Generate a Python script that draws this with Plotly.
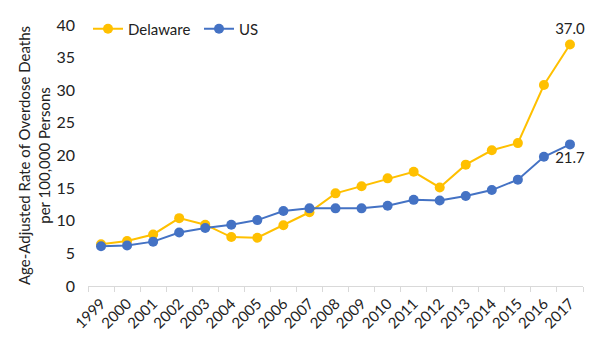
import plotly.graph_objects as go

years = [str(y) for y in range(1999, 2018)]
delaware = [6.4, 6.9, 7.9, 10.4, 9.4, 7.5, 7.4, 9.3, 11.3, 14.2, 15.3, 16.5, 17.5, 15.1, 18.6, 20.8, 21.9, 30.8, 37.0]
us = [6.1, 6.2, 6.8, 8.2, 8.9, 9.4, 10.1, 11.5, 11.9, 11.9, 11.9, 12.3, 13.2, 13.1, 13.8, 14.7, 16.3, 19.8, 21.7]

de_text = [""] * (len(years) - 1) + [f"{delaware[-1]:.1f}"]
us_text = [""] * (len(years) - 1) + [f"{us[-1]:.1f}"]

FONT = "Lato, Open Sans, sans-serif"

fig = go.Figure()
fig.add_trace(go.Scatter(
    x=years, y=delaware, name="Delaware", mode="lines+markers+text",
    line=dict(color="#FFC000", width=2), marker=dict(size=10, color="#FFC000"),
    text=de_text, textposition="top center", cliponaxis=False,
    textfont=dict(size=15, color="#222222", family=FONT),
))
fig.add_trace(go.Scatter(
    x=years, y=us, name="US", mode="lines+markers+text",
    line=dict(color="#4472C4", width=2), marker=dict(size=10, color="#4472C4"),
    text=us_text, textposition="bottom center", cliponaxis=False,
    textfont=dict(size=15, color="#222222", family=FONT),
))

fig.update_layout(
    width=608, height=346,
    margin=dict(l=88, r=25, t=20, b=60),
    paper_bgcolor="white", plot_bgcolor="white",
    font=dict(family=FONT, size=15, color="#222222"),
    legend=dict(orientation="h", x=0.0, y=0.985, xanchor="left", yanchor="middle",
                font=dict(size=15), bgcolor="rgba(0,0,0,0)",
                itemwidth=30, entrywidth=66, tracegroupgap=0),
    showlegend=True,
)
fig.update_xaxes(
    type="category", range=[-0.5, len(years) - 0.5], tickangle=-45,
    showgrid=False, automargin=False,
    showline=True, linecolor="#d9d9d9", linewidth=1,
    ticks="outside", tickson="boundaries", ticklen=5, tickcolor="#d9d9d9",
    tickfont=dict(size=15), ticklabelstandoff=2,
)
fig.update_yaxes(
    range=[0, 40], dtick=5, showgrid=False, zeroline=False, showline=False,
    automargin=False,
    tickfont=dict(size=16), ticklabelstandoff=12,
    title=dict(text="Age-Adjusted Rate of Overdose Deaths<br>per 100,000 Persons",
               font=dict(size=15), standoff=2),
)

fig.write_html("out.html")
